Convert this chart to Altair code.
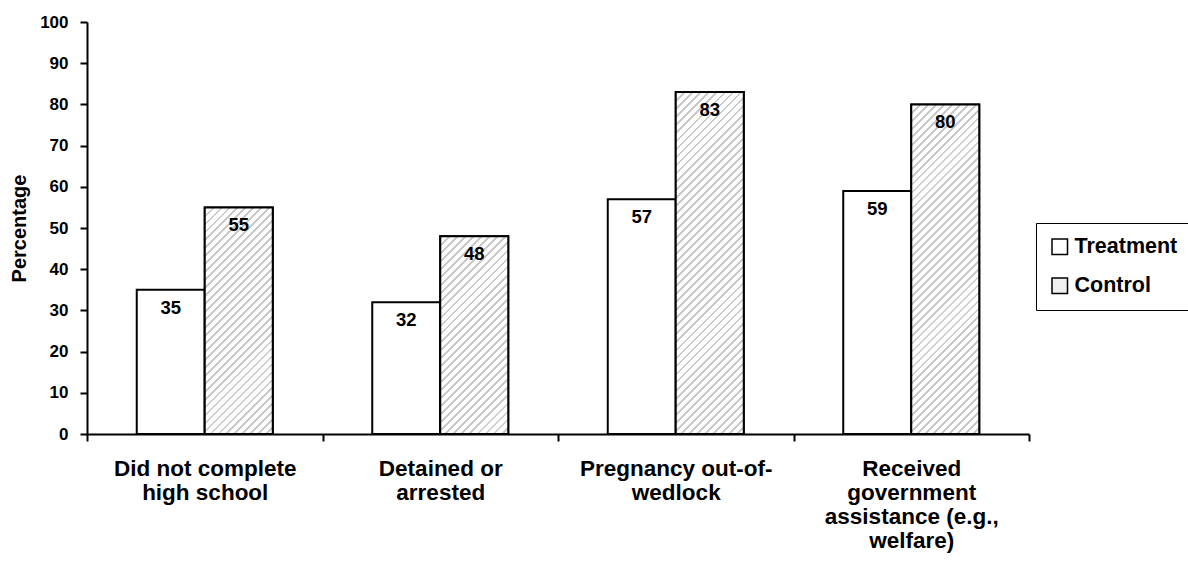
import altair as alt
import pandas as pd

# Outcome categories ("|" marks a line break in the axis label)
categories = [
    "Did not complete|high school",
    "Detained or|arrested",
    "Pregnancy out-of-|wedlock",
    "Received|government|assistance (e.g.,|welfare)",
]
groups = ["Treatment", "Control"]
treatment = [35, 32, 57, 59]
control = [55, 48, 83, 80]

W, H = 942, 412
BAR_W = 68
FONT = "Liberation Sans"

df = pd.DataFrame({
    "category": categories * 2,
    "group": ["Treatment"] * len(categories) + ["Control"] * len(categories),
    "value": treatment + control,
})

x_enc = alt.X(
    "category:N",
    sort=categories,
    scale=alt.Scale(paddingInner=0, paddingOuter=0),
    axis=alt.Axis(
        title=None,
        labelExpr="split(datum.label, '|')",
        tickBand="extent",
        labelAngle=0,
        labelFontSize=22.5,
        labelFontWeight="bold",
        labelLineHeight=24,
        labelPadding=16,
        labelBaseline="top",
        labelLimit=0,
        tickSize=7,
    ),
)
xo_enc = alt.XOffset(
    "group:N",
    sort=groups,
    scale=alt.Scale(paddingInner=0, paddingOuter=((W / 4) / BAR_W - 2) / 2),
)
y_enc = alt.Y(
    "value:Q",
    scale=alt.Scale(domain=[0, 100]),
    axis=alt.Axis(
        values=list(range(0, 101, 10)),
        title="Percentage",
        titleFontSize=20,
        titleFontWeight="bold",
        titlePadding=10,
        labelFontSize=17,
        labelFontWeight="bold",
        labelPadding=12,
        tickSize=7,
        grid=False,
    ),
)


def hatch(value, period=8.0, duty=0.35, ink="#cbcbcb"):
    """Diagonal stripe fill for a bar of the given value (45-degree stripes)."""
    w = BAR_W
    h = value / 100 * H
    s = (w + h) / (w * w + h * h)
    n = max(1, int(round((w + h) / period)))
    stops = []
    for i in range(n):
        a = i / n
        b = (i + duty) / n
        c = (i + 1) / n
        stops += [
            alt.GradientStop(offset=a, color=ink),
            alt.GradientStop(offset=b, color=ink),
            alt.GradientStop(offset=b, color="white"),
            alt.GradientStop(offset=c, color="white"),
        ]
    return alt.LinearGradient(
        gradient="linear", stops=stops, x1=0, y1=0, x2=s * w, y2=s * h
    )


bars = alt.Chart(df).mark_bar(stroke="black", strokeWidth=2).encode(
    x=x_enc,
    xOffset=xo_enc,
    y=y_enc,
    color=alt.Color(
        "group:N",
        sort=groups,
        scale=alt.Scale(domain=groups, range=["white", "#f0f0f0"]),
        legend=alt.Legend(
            title=None,
            orient="none",
            legendX=949,
            legendY=201,
            strokeColor="black",
            fillColor="white",
            padding=13,
            symbolType="square",
            symbolSize=240,
            symbolStrokeColor="black",
            symbolStrokeWidth=1.5,
            labelFontSize=21.5,
            labelFontWeight="bold",
            labelFont=FONT,
            labelColor="black",
            labelOffset=4,
            labelLimit=0,
            rowPadding=16,
        ),
    ),
)

# Hatched overlay for each control bar
hatched = []
for cat, val in zip(categories, control):
    hatched.append(
        alt.Chart(df)
        .transform_filter(
            (alt.datum.group == "Control") & (alt.datum.category == cat)
        )
        .mark_bar(fill=hatch(val), stroke="black", strokeWidth=2)
        .encode(x=x_enc, xOffset=xo_enc, y=y_enc)
    )

labels = alt.Chart(df).mark_text(
    dy=18, fontSize=18.5, fontWeight="bold", font=FONT, color="black", baseline="middle"
).encode(
    x=x_enc,
    xOffset=xo_enc,
    y=y_enc,
    text=alt.Text("value:Q"),
)

chart = (
    alt.layer(bars, *hatched, labels)
    .properties(
        width=W,
        height=H,
        autosize=alt.AutoSizeParams(type="none"),
        padding={"left": 87, "top": 22, "right": 159, "bottom": 142},
    )
    .configure(font=FONT)
    .configure_view(stroke=None)
    .configure_axis(
        domainColor="black",
        domainWidth=2,
        tickColor="black",
        tickWidth=2,
        labelColor="black",
        titleColor="black",
        labelFont=FONT,
        titleFont=FONT,
    )
)

chart.save("out.html", embed_options={"renderer": "svg", "actions": False})
